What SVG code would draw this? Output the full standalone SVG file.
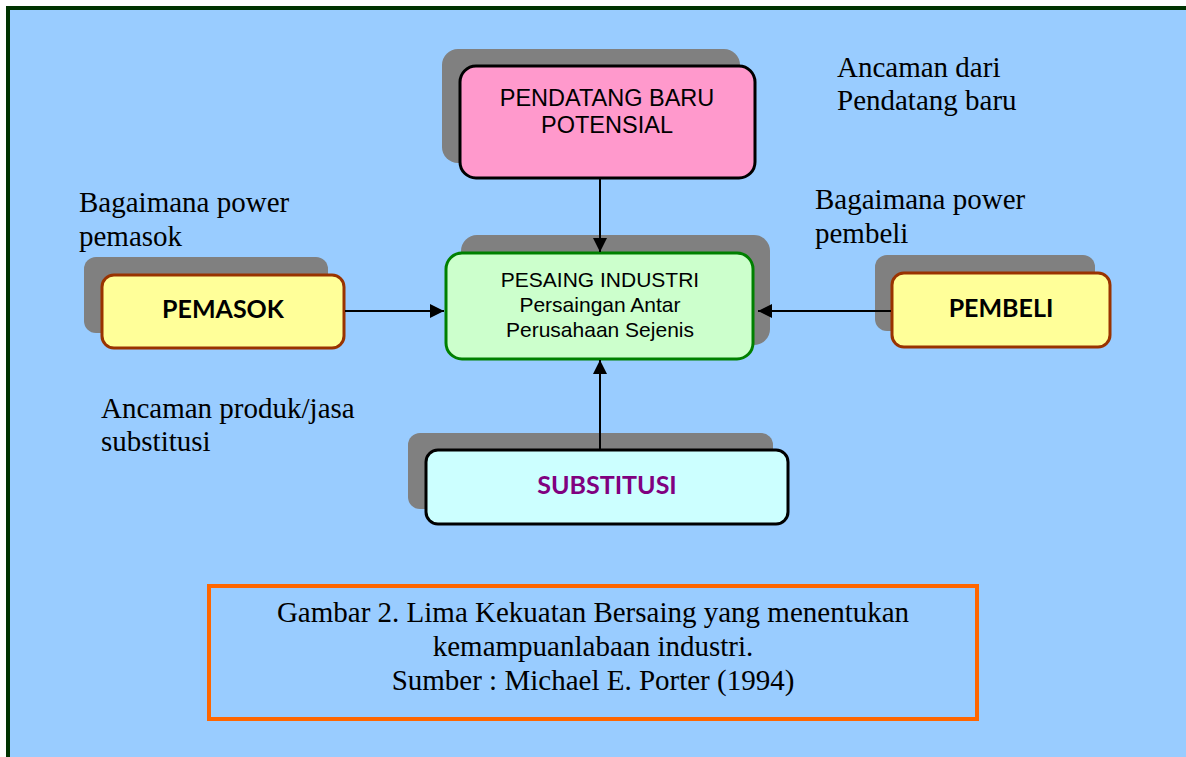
<svg xmlns="http://www.w3.org/2000/svg" width="1186" height="757" viewBox="0 0 1186 757">
<defs>
<style>
.shadow{fill:#808080}
.lbl{font-family:"Liberation Serif","Times New Roman",serif;font-size:29px;fill:#000}
.cap{font-family:"Liberation Serif","Times New Roman",serif;font-size:29px;fill:#000;text-anchor:middle}
.sans{font-family:"Liberation Sans",Arial,sans-serif;fill:#000;text-anchor:middle}
.bold{font-family:Lato,"Open Sans",sans-serif;font-weight:bold;font-size:25px;text-anchor:middle}
.conn{stroke:#000;stroke-width:2;fill:none}
</style>
<marker id="arr" viewBox="0 0 14 14" refX="14" refY="7" markerWidth="14" markerHeight="14" markerUnits="userSpaceOnUse" orient="auto">
<path d="M0,0 L14,7 L0,14 Z" fill="#000"/>
</marker>
</defs>
<rect x="0" y="0" width="1186" height="757" fill="#ffffff"/>
<rect x="8" y="8" width="1190" height="760" fill="#99CCFF" stroke="#003300" stroke-width="4"/>

<g id="pendatang">
<rect class="shadow" x="442" y="49" width="298" height="114" rx="16"/>
<rect x="460" y="66" width="295" height="112" rx="16" fill="#FF99CC" stroke="#000" stroke-width="3"/>
<text class="sans" font-size="23.5" x="607" y="106">PENDATANG BARU</text>
<text class="sans" font-size="23.5" x="607" y="133">POTENSIAL</text>
</g>

<g id="pesaing">
<rect class="shadow" x="461" y="235" width="309" height="110" rx="16"/>
<rect x="446" y="253" width="307" height="106" rx="16" fill="#CCFFCC" stroke="#008000" stroke-width="3"/>
<text class="sans" font-size="21" x="600" y="287">PESAING INDUSTRI</text>
<text class="sans" font-size="21" x="600" y="312">Persaingan Antar</text>
<text class="sans" font-size="21" x="600" y="337">Perusahaan Sejenis</text>
</g>

<g id="pemasok">
<rect class="shadow" x="84" y="257" width="244" height="76" rx="12"/>
<rect x="102" y="275" width="242" height="73" rx="12" fill="#FFFF99" stroke="#993300" stroke-width="3"/>
<text class="bold" x="223" y="318" fill="#000">PEMASOK</text>
</g>

<g id="pembeli">
<rect class="shadow" x="875" y="255" width="220" height="76" rx="12"/>
<rect x="892" y="273" width="218" height="74" rx="12" fill="#FFFF99" stroke="#993300" stroke-width="3"/>
<text class="bold" x="1001" y="317" fill="#000">PEMBELI</text>
</g>

<g id="substitusi">
<rect class="shadow" x="408" y="433" width="365" height="76" rx="12"/>
<rect x="426" y="450" width="362" height="74" rx="12" fill="#CCFFFF" stroke="#000" stroke-width="3"/>
<text class="bold" x="607" y="494" fill="#800080">SUBSTITUSI</text>
</g>

<g id="connectors">
<line class="conn" x1="600" y1="179" x2="600" y2="252" marker-end="url(#arr)"/>
<line class="conn" x1="345" y1="311" x2="444" y2="311" marker-end="url(#arr)"/>
<line class="conn" x1="891" y1="311" x2="758" y2="311" marker-end="url(#arr)"/>
<line class="conn" x1="600" y1="449" x2="600" y2="360" marker-end="url(#arr)"/>
</g>

<g id="labels">
<text class="lbl" x="837" y="77">Ancaman dari</text>
<text class="lbl" x="837" y="110">Pendatang baru</text>
<text class="lbl" x="79" y="212">Bagaimana power</text>
<text class="lbl" x="79" y="246">pemasok</text>
<text class="lbl" x="815" y="209">Bagaimana power</text>
<text class="lbl" x="815" y="243">pembeli</text>
<text class="lbl" x="101" y="418">Ancaman produk/jasa</text>
<text class="lbl" x="101" y="451">substitusi</text>
</g>

<g id="caption">
<rect x="209" y="586" width="768" height="133" fill="none" stroke="#FF6600" stroke-width="4"/>
<text class="cap" x="593" y="622">Gambar 2. Lima Kekuatan Bersaing yang menentukan</text>
<text class="cap" x="593" y="656">kemampuanlabaan industri.</text>
<text class="cap" x="593" y="690">Sumber : Michael E. Porter (1994)</text>
</g>
</svg>
